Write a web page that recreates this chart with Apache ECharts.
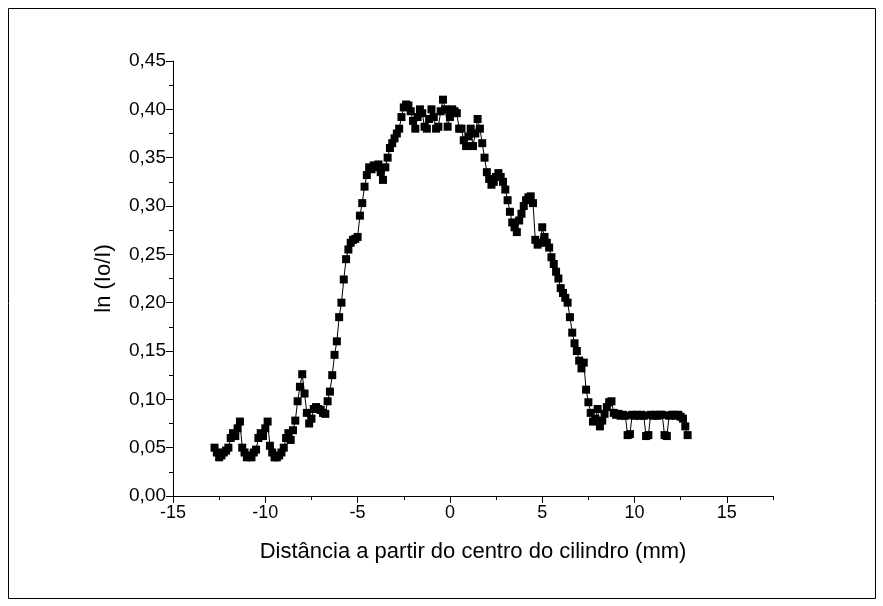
<!DOCTYPE html>
<html>
<head>
<meta charset="utf-8">
<script src="https://cdn.jsdelivr.net/npm/echarts@6/dist/echarts.min.js"></script>
<style>html,body{margin:0;padding:0;background:#fff}#c{width:883px;height:606px}</style>
</head>
<body>
<div id="c"></div>
<script>
// Distance from cylinder centre (mm)
const xValues = [
 -12.75,-12.625,-12.5,-12.375,-12.25,-12.125,-12.0,-11.875,-11.75,-11.625,-11.5,-11.375,-11.25,-11.125,-11.0,-10.875,-10.75,-10.625,-10.5,-10.375,-10.25,-10.125,-10.0,-9.875,-9.75,-9.625,-9.5,-9.375,-9.25,-9.125,-9.0,-8.875,-8.75,-8.625,-8.5,-8.375,-8.25,-8.125,-8.0,-7.875,-7.75,-7.625,-7.5,-7.375,-7.25,-7.125,-7.0,-6.875,-6.75,-6.625,-6.5,
 -6.375,-6.25,-6.125,-6.0,-5.875,-5.75,-5.625,-5.5,-5.375,-5.25,-5.125,-5.0,-4.875,-4.75,-4.625,-4.5,-4.375,-4.25,-4.125,-4.0,-3.875,-3.75,-3.625,-3.5,-3.375,-3.25,
 -3.125,-3.0,-2.875,-2.75,-2.625,-2.5,-2.375,-2.25,-2.125,-2.0,-1.875,-1.75,-1.625,-1.5,-1.375,-1.25,-1.125,-1.0,-0.875,-0.75,-0.625,-0.5,-0.375,-0.25,-0.125,0.0,0.125,0.25,0.375,0.5,0.625,0.75,0.875,1.0,1.125,1.25,1.375,1.5,1.625,1.75,1.875,2.0,
 2.125,2.25,2.375,2.5,2.625,2.75,2.875,3.0,3.125,3.25,3.375,3.5,3.625,3.75,3.875,4.0,4.125,4.25,4.375,4.5,4.625,4.75,4.875,5.0,5.125,5.25,5.375,5.5,5.625,5.75,5.875,6.0,6.125,6.25,6.375,6.5,6.625,6.75,6.875,7.0,7.125,7.25,7.375,
 7.5,7.625,7.75,7.875,8.0,8.125,8.25,8.375,8.5,8.625,8.75,8.875,9.0,9.125,9.25,9.375,9.5,9.625,9.75,9.875,10.0,10.125,10.25,10.375,10.5,10.625,10.75,10.875,11.0,11.125,11.25,11.375,11.5,11.625,11.75,11.875,12.0,12.125,12.25,12.375,12.5,12.625,12.75,12.875
];
// ln(Io/I)
const yValues = [
 0.050,0.045,0.040,0.042,0.045,0.047,0.050,0.060,0.065,0.062,0.070,0.077,0.050,0.045,0.040,0.042,0.040,0.045,0.048,0.060,0.065,0.062,0.070,0.077,0.052,0.045,0.040,0.040,0.042,0.045,0.050,0.060,0.065,0.058,0.068,0.078,0.098,0.113,0.126,0.106,0.086,0.075,0.080,0.090,0.092,0.090,0.089,0.086,0.085,0.098,0.108,
 0.125,0.146,0.160,0.185,0.200,0.224,0.245,0.255,0.262,0.265,0.266,0.268,0.290,0.303,0.320,0.332,0.340,0.338,0.342,0.340,0.343,0.335,0.327,0.340,0.350,0.360,
 0.365,0.370,0.375,0.380,0.392,0.402,0.405,0.404,0.398,0.388,0.380,0.392,0.400,0.396,0.382,0.380,0.390,0.400,0.392,0.380,0.382,0.398,0.410,0.400,0.382,0.392,0.400,0.398,0.396,0.380,0.380,0.368,0.362,0.372,0.380,0.362,0.375,0.390,0.380,0.365,0.350,0.335,
 0.328,0.322,0.325,0.330,0.334,0.330,0.325,0.317,0.306,0.294,0.283,0.278,0.273,0.285,0.292,0.300,0.306,0.309,0.310,0.303,0.265,0.260,0.262,0.278,0.268,0.262,0.257,0.247,0.240,0.232,0.225,0.215,0.210,0.205,0.200,0.185,0.169,0.158,0.150,0.140,0.132,0.138,0.110,
 0.097,0.086,0.077,0.080,0.090,0.072,0.078,0.085,0.092,0.097,0.098,0.086,0.084,0.085,0.083,0.084,0.083,0.063,0.064,0.084,0.083,0.084,0.083,0.084,0.083,0.062,0.063,0.084,0.083,0.084,0.083,0.084,0.084,0.063,0.062,0.083,0.084,0.084,0.083,0.084,0.082,0.080,0.072,0.063
];
const xMajorTicks = [-15,-10,-5,0,5,10,15];
const xMinorTicks = [-12.5,-7.5,-2.5,2.5,7.5,12.5,17.5];
const xTitle = 'Distância a partir do centro do cilindro (mm)';
const yTitle = 'ln (Io/I)';

const FONT = 'Liberation Sans, Arial, sans-serif';
const points = xValues.map((x, i) => [x, yValues[i]]);
const chart = echarts.init(document.getElementById('c'), null, {renderer: 'canvas'});
chart.setOption({
  animation: false,
  backgroundColor: '#fff',
  graphic: [{
    type: 'rect', shape: {x: 8.5, y: 8.5, width: 867, height: 590},
    style: {fill: 'none', stroke: '#000', lineWidth: 1}, silent: true, z: 0
  }],
  grid: {left: 173, top: 61, width: 600, height: 435, containLabel: false},
  xAxis: [{
    type: 'value', min: -15, max: 17.5, position: 'bottom',
    name: xTitle, nameLocation: 'middle', nameGap: 45,
    nameTextStyle: {fontFamily: FONT, fontSize: 22, color: '#000'},
    axisLine: {show: true, onZero: false, lineStyle: {color: '#000', width: 1}},
    axisTick: {show: true, customValues: xMajorTicks, length: 7, inside: false, lineStyle: {color: '#000'}},
    axisLabel: {customValues: xMajorTicks, margin: 8, fontFamily: FONT, fontSize: 18, color: '#000',
      formatter: v => String(v)},
    splitLine: {show: false}
  }, {
    type: 'value', min: -15, max: 17.5, position: 'bottom', offset: 0,
    axisLine: {show: false, onZero: false},
    axisTick: {show: true, customValues: xMinorTicks, length: 4, lineStyle: {color: '#000'}},
    axisLabel: {show: false},
    splitLine: {show: false}
  }],
  yAxis: {
    type: 'value', min: 0, max: 0.45, interval: 0.05,
    name: yTitle, nameLocation: 'middle', nameGap: 58, nameRotate: 90,
    nameTextStyle: {fontFamily: FONT, fontSize: 22, color: '#000'},
    axisLine: {show: true, onZero: false, lineStyle: {color: '#000', width: 1}},
    axisTick: {show: true, length: 7, lineStyle: {color: '#000'}},
    minorTick: {show: true, splitNumber: 2, length: 4, lineStyle: {color: '#000'}},
    axisLabel: {margin: 7, fontFamily: FONT, fontSize: 19, color: '#000',
      formatter: v => v.toFixed(2).replace('.', ',')},
    splitLine: {show: false}
  },
  series: [{
    type: 'line', data: points, xAxisIndex: 0,
    symbol: 'rect', symbolSize: 8, showSymbol: true, showAllSymbol: true,
    lineStyle: {color: '#000', width: 1},
    itemStyle: {color: '#000'},
    clip: false
  }]
});
</script>
</body>
</html>
